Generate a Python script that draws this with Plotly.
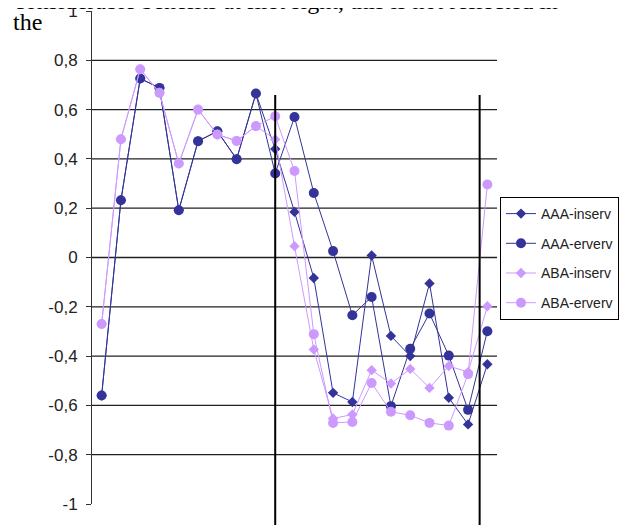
import plotly.graph_objects as go

categories = list(range(21))

aaa_inserv = [-0.56, 0.232, 0.726, 0.688, 0.192, 0.472, 0.512, 0.399, 0.665,
              0.440, 0.185, -0.083, -0.549, -0.586, 0.008, -0.318, -0.40, -0.105, -0.569, -0.677, -0.433]
aaa_erverv = [-0.56, 0.232, 0.726, 0.688, 0.192, 0.472, 0.512, 0.399, 0.665,
              0.341, 0.570, 0.262, 0.026, -0.234, -0.160, -0.603, -0.370, -0.227, -0.398, -0.618, -0.299]
aba_inserv = [-0.27, 0.48, 0.764, 0.668, 0.381, 0.600, 0.499, 0.473, 0.533,
              0.479, 0.046, -0.373, -0.653, -0.637, -0.457, -0.511, -0.452, -0.529, -0.44, -0.465, -0.198]
aba_erverv = [-0.27, 0.48, 0.764, 0.668, 0.381, 0.600, 0.499, 0.473, 0.533,
              0.573, 0.351, -0.311, -0.671, -0.667, -0.509, -0.626, -0.640, -0.671, -0.682, -0.473, 0.296]

series_names = ["AAA-inserv", "AAA-erverv", "ABA-inserv", "ABA-erverv"]
tick_vals = [-1, -0.8, -0.6, -0.4, -0.2, 0, 0.2, 0.4, 0.6, 0.8, 1]
tick_labels = ["-1", "-0,8", "-0,6", "-0,4", "-0,2", "0", "0,2", "0,4", "0,6", "0,8", "1"]
grid_vals = [-0.8, -0.6, -0.4, -0.2, 0, 0.2, 0.4, 0.6, 0.8]
divider_x = [9, 19.6]

DARK = "#333399"
LIGHT = "#CC99FF"
FONT = "Liberation Sans, Arial, sans-serif"
SERIF = "Liberation Serif, Times New Roman, serif"

# page body has an 8px margin: figure is sized to fit the 629x525 window
W, H = 621, 517
ML, MR, MT, MB = 84, 132, 3, 21
PW = W - ML - MR
PH = H - MT - MB


def px_x(fx):
    return (fx - ML) / PW


def px_y(fy):
    return (H - MB - fy) / PH


fig = go.Figure()
styles = [
    (aaa_inserv, DARK, "diamond", 8),
    (aaa_erverv, DARK, "circle", 10),
    (aba_inserv, LIGHT, "diamond", 8),
    (aba_erverv, LIGHT, "circle", 10),
]
for name, (vals, col, sym, sz) in zip(series_names, styles):
    fig.add_trace(go.Scatter(
        x=categories, y=vals, name=name, mode="lines+markers", legendgroup=name,
        line=dict(color=col, width=1),
        marker=dict(color=col, symbol=sym, size=sz, line=dict(width=0)),
    ))

shapes = []
for g in grid_vals:
    shapes.append(dict(type="line", xref="paper", yref="y", x0=0, x1=1, y0=g, y1=g,
                       line=dict(color="#222222", width=1.3), layer="below"))
for dx in divider_x:
    shapes.append(dict(type="line", xref="x", yref="paper", x0=dx, x1=dx,
                       y0=px_y(517), y1=px_y(87),
                       line=dict(color="black", width=2), layer="above"))

fig.update_layout(
    width=W, height=H,
    margin=dict(l=ML, r=MR, t=MT, b=MB, pad=0),
    paper_bgcolor="white", plot_bgcolor="white",
    showlegend=True,
    legend=dict(xref="container", yref="container", x=492 / W, y=1 - 189 / H,
                xanchor="left", yanchor="top",
                bordercolor="black", borderwidth=1, bgcolor="white",
                font=dict(family=FONT, size=14, color="#222222"),
                tracegroupgap=8.5, itemwidth=30),
    xaxis=dict(range=[-0.5, 20.5], visible=False, fixedrange=True),
    yaxis=dict(range=[-1, 1], tickvals=tick_vals, ticktext=tick_labels, automargin=False,
               showgrid=False, zeroline=False, showline=True, linecolor="#333333", linewidth=1,
               ticks="outside", ticklen=5, tickcolor="#333333",
               tickfont=dict(family=FONT, size=17, color="#222222"),
               ticklabelstandoff=5, ticklabeloverflow="allow"),
    shapes=shapes,
    annotations=[
        dict(text="considerable benefits at first sight, this is not reflected in",
             xref="paper", yref="paper", x=px_x(4), y=px_y(8),
             xanchor="left", yanchor="bottom", showarrow=False,
             font=dict(family=SERIF, size=24, color="black")),
        dict(text="the", xref="paper", yref="paper", x=px_x(3), y=px_y(29),
             xanchor="left", yanchor="bottom", showarrow=False,
             font=dict(family=SERIF, size=24, color="black")),
    ],
)

fig.write_html("out.html")
